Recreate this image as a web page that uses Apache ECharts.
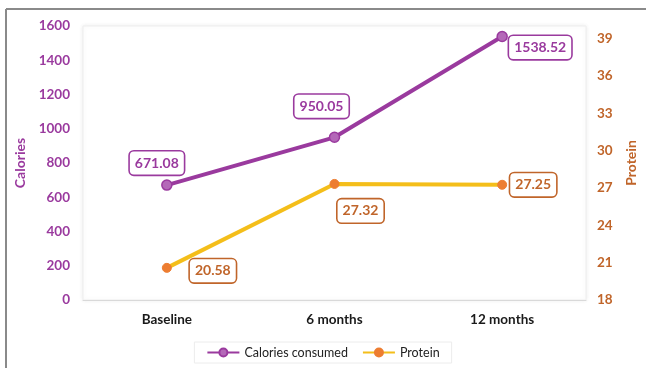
<!DOCTYPE html>
<html>
<head>
<meta charset="utf-8">
<script src="https://cdn.jsdelivr.net/npm/echarts@6/dist/echarts.min.js"></script>
<style>
  html, body { margin: 0; padding: 0; background: #fff; }
  #chart { width: 646px; height: 368px; }
</style>
</head>
<body>
<div id="chart"></div>
<script>
// Follow-up timepoints
const categories = ['Baseline', '6 months', '12 months'];
// Mean daily intake
const calories = [671.08, 950.05, 1538.52];
const protein = [20.58, 27.32, 27.25];

// Label placement around each point (pixel offsets from the marker)
const calorieLabelOffsets = [[-10, -22], [-13, -31], [38, 11]];
const proteinLabelOffsets = [[46, 3], [26, 27], [31, 0]];

const FONT = 'Lato, "Open Sans", sans-serif';
const PURPLE = '#9A3A9E';
const ORANGE_TXT = '#C0652A';

function boxLabel(color, offset) {
  return {
    show: true,
    position: 'inside',
    offset: offset,
    color: color,
    fontFamily: FONT,
    fontWeight: 'bold',
    fontSize: 14,
    backgroundColor: '#fff',
    borderColor: color,
    borderWidth: 1.6,
    borderRadius: 4,
    padding: [5, 5, 4, 5]
  };
}

const chart = echarts.init(document.getElementById('chart'), null, { renderer: 'canvas' });
chart.setOption({
  backgroundColor: '#fff',
  animation: false,
  graphic: [
    { type: 'line', shape: { x1: 6, y1: 9, x2: 646, y2: 9 }, style: { stroke: '#8a8a8a', lineWidth: 2 } },
    { type: 'line', shape: { x1: 6, y1: 9, x2: 6, y2: 368 }, style: { stroke: '#8a8a8a', lineWidth: 2 } }
  ],
  grid: {
    left: 83, right: 60, top: 26, bottom: 68,
    show: true,
    backgroundColor: '#fff',
    borderColor: '#eeeeee',
    borderWidth: 1,
    shadowColor: 'rgba(0,0,0,0.08)',
    shadowBlur: 4
  },
  legend: {
    bottom: 5,
    left: 'center',
    itemWidth: 32,
    itemHeight: 10,
    itemGap: 14,
    padding: [4, 12, 4, 12],
    borderColor: '#ececec',
    borderWidth: 1,
    textStyle: { fontFamily: FONT, fontSize: 12.5, color: '#222' },
    data: ['Calories consumed', 'Protein']
  },
  xAxis: {
    type: 'category',
    data: categories,
    boundaryGap: true,
    axisLine: { lineStyle: { color: '#d9d9d9', width: 1 } },
    axisTick: { show: false },
    axisLabel: { color: '#1a1a1a', fontFamily: FONT, fontWeight: 'bold', fontSize: 13.5, margin: 13 }
  },
  yAxis: [
    {
      type: 'value',
      min: 0, max: 1600, interval: 200,
      name: 'Calories',
      nameLocation: 'middle',
      nameGap: 46,
      nameTextStyle: { color: PURPLE, fontFamily: FONT, fontWeight: 'bold', fontSize: 14 },
      axisLine: { show: false },
      axisTick: { show: false },
      splitLine: { show: false },
      axisLabel: {
        color: PURPLE, fontFamily: FONT, fontWeight: 'bold', fontSize: 13.5, margin: 13,
        formatter: v => String(v)
      }
    },
    {
      type: 'value',
      min: 18, max: 40, interval: 3,
      name: 'Protein',
      nameLocation: 'middle',
      nameGap: 38,
      nameTextStyle: { color: ORANGE_TXT, fontFamily: FONT, fontWeight: 'bold', fontSize: 14 },
      axisLine: { show: false },
      axisTick: { show: false },
      splitLine: { show: false },
      axisLabel: { color: ORANGE_TXT, fontFamily: FONT, fontWeight: 'bold', fontSize: 13.5, margin: 11, showMaxLabel: false }
    }
  ],
  series: [
    {
      name: 'Calories consumed',
      type: 'line',
      yAxisIndex: 0,
      symbol: 'circle',
      symbolSize: 10,
      lineStyle: { color: PURPLE, width: 4 },
      itemStyle: { color: '#B468B8', borderColor: PURPLE, borderWidth: 1.5 },
      data: calories.map((v, i) => ({ value: v, label: boxLabel(PURPLE, calorieLabelOffsets[i]) })),
      label: { show: true, formatter: p => p.value.toFixed(2) },
      z: 3
    },
    {
      name: 'Protein',
      type: 'line',
      yAxisIndex: 1,
      symbol: 'circle',
      symbolSize: 9,
      lineStyle: { color: '#F4BE1A', width: 4 },
      itemStyle: { color: '#ED7D31', borderColor: '#ED7D31', borderWidth: 1 },
      data: protein.map((v, i) => ({ value: v, label: boxLabel(ORANGE_TXT, proteinLabelOffsets[i]) })),
      label: { show: true, formatter: p => p.value.toFixed(2) },
      z: 2
    }
  ]
});
</script>
</body>
</html>
